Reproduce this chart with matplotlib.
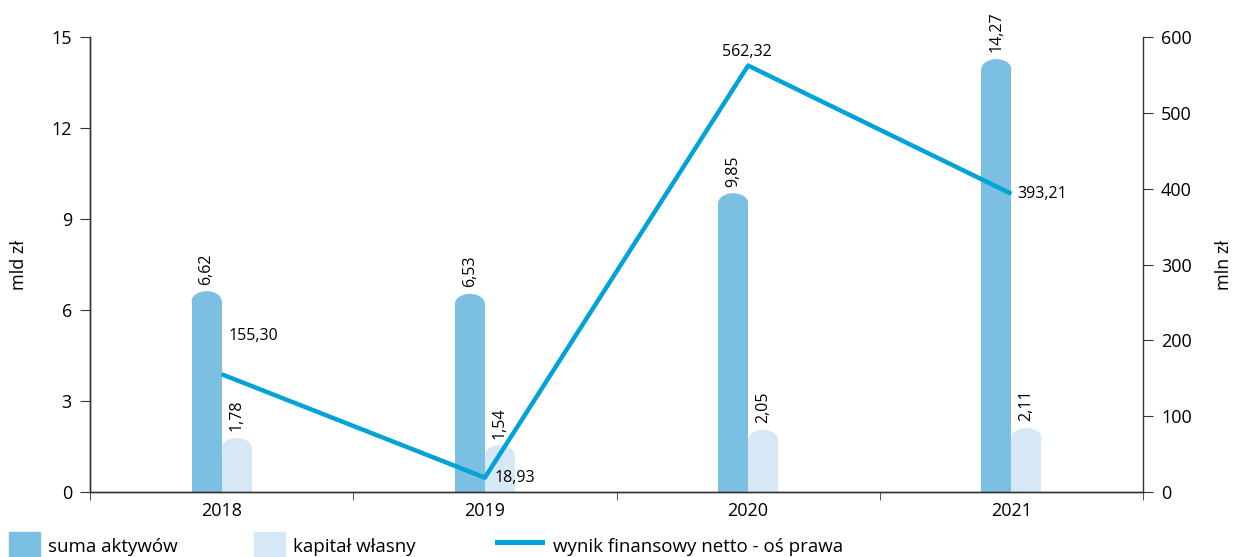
import numpy as np
import matplotlib.pyplot as plt
from matplotlib.patches import Ellipse, Patch
from matplotlib.lines import Line2D

plt.rcParams['font.family'] = ['Open Sans', 'DejaVu Sans']

years = ['2018', '2019', '2020', '2021']
suma_aktywow = [6.62, 6.53, 9.85, 14.27]
kapital_wlasny = [1.78, 1.54, 2.05, 2.11]
wynik_netto = [155.30, 18.93, 562.32, 393.21]

c_suma = '#7bbfe3'
c_kap = '#d6e8f6'
c_line = '#00a3d8'


def fmt(v):
    return f"{v:.2f}".replace('.', ',')


fig = plt.figure(figsize=(12.36, 5.57), dpi=100)
ax = fig.add_axes([90 / 1236, 1 - 492 / 557, 1053 / 1236, 455 / 557])
ax2 = ax.twinx()

x = np.arange(len(years))
w = 0.114
cap = 0.33  # height of rounded bar top, in mld zł

for xs, vals, col in [(x - w / 2, suma_aktywow, c_suma), (x + w / 2, kapital_wlasny, c_kap)]:
    ax.bar(xs, [v - cap for v in vals], width=w, color=col, zorder=2)
    for xi, v in zip(xs, vals):
        ax.add_patch(Ellipse((xi, v - cap), w, 2 * cap, color=col, lw=0, zorder=2))
        ax.text(xi, v + 0.22, fmt(v), rotation=90, ha='center', va='bottom', fontsize=11.5)

ax2.plot(x, wynik_netto, color=c_line, lw=3.2, solid_capstyle='butt', zorder=3)
ax2.set_zorder(ax.get_zorder() + 1)
ax2.patch.set_visible(False)

# label offsets in points: dx, dy, ha, va
offsets = [(5, 22, 'left', 'bottom'), (7, 0, 'left', 'center'), (-1, 4, 'center', 'bottom'), (4, 0, 'left', 'center')]
for xi, v, (dx, dy, ha, va) in zip(x, wynik_netto, offsets):
    ax2.annotate(fmt(v), (xi, v), xytext=(dx, dy), textcoords='offset points',
                 ha=ha, va=va, fontsize=11.5)

ax.set_xlim(-0.5, 3.5)
ax.set_ylim(0, 15)
ax2.set_ylim(0, 600)
ax.set_yticks([0, 3, 6, 9, 12, 15])
ax2.set_yticks(range(0, 601, 100))
ax.set_xticks(x)
ax.set_xticklabels(years)
ax.set_xticks([-0.5, 0.5, 1.5, 2.5, 3.5], minor=True)
ax.tick_params(axis='x', which='major', length=0, pad=7, labelsize=13)
ax.tick_params(axis='x', which='minor', length=6, direction='out', color='#333333')
ax.tick_params(axis='y', length=7, direction='out', labelsize=13, pad=6, color='#333333')
ax2.tick_params(axis='y', length=7, direction='out', labelsize=13, pad=6, color='#333333')

for a in (ax, ax2):
    a.spines['top'].set_visible(False)
    for s in a.spines.values():
        s.set_color('#333333')
        s.set_linewidth(1)
ax.spines['right'].set_visible(False)

ax.set_ylabel('mld zł', fontsize=13)
ax2.set_ylabel('mln zł', fontsize=13)
ax.yaxis.set_label_coords(-62 / 1053, 0.5)
ax2.yaxis.set_label_coords(1 + 72 / 1053, 0.5)

legend_items = [
    (Patch(color=c_suma), 'suma aktywów', 9 / 1236),
    (Patch(color=c_kap), 'kapitał własny', 254 / 1236),
    (Line2D([], [], color=c_line, lw=3.6), 'wynik finansowy netto - oś prawa', 497 / 1236),
]
for h, lbl, px in legend_items:
    is_patch = isinstance(h, Patch)
    fig.legend([h], [lbl], loc='lower left', bbox_to_anchor=(px, -4 / 557),
               frameon=False, fontsize=13.5, handlelength=1.65 if is_patch else 2.4,
               handleheight=2.0, handletextpad=0.45 if is_patch else 0.6,
               borderaxespad=0, borderpad=0)

fig.savefig('out.png', dpi=100)
